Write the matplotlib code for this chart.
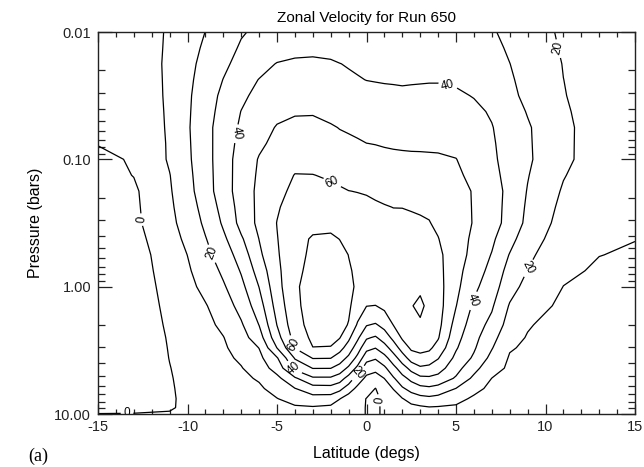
import numpy as np
import matplotlib
matplotlib.use("Agg")
import matplotlib.pyplot as plt
from matplotlib.ticker import FixedLocator, MultipleLocator, LogLocator, FuncFormatter, NullFormatter

plt.rcParams['font.family'] = ['Liberation Sans', 'DejaVu Sans']

# ---------------- data ----------------
latitude = [-15, -13, -11, -10, -9, -8, -7, -6, -5, -4, -3, -2, -1.5, -1, -0.5, 0,
            0.5, 1, 1.5, 2, 2.5, 3, 3.5, 4, 5, 6, 7, 8, 9, 11, 13, 15]
pressure = [0.01, 0.01334, 0.01778, 0.02371, 0.03162, 0.04217, 0.05623, 0.07499,
            0.1, 0.1334, 0.1778, 0.2371, 0.3162, 0.4217, 0.5623, 0.7499, 1.0, 1.413,
            1.995, 2.512, 3.020, 3.631, 4.365, 5.248, 6.310, 7.586, 8.913, 10.0]

# zonal velocity, one row per pressure level (same order as `pressure`)
u_p0100 = [4, 7, 10.6, 15.6, 20.1, 24.3, 29.3, 31.5, 32, 33.5, 35, 35.5, 36, 36, 36, 36,
           36, 36, 36, 35.5, 35.5, 35, 35, 34.5, 33.5, 32, 30.8, 27.9, 24.6, 18.5, 16, 13]
u_p0133 = [4.5, 7.25, 10.65, 16.5, 21.45, 26.3, 31.05, 34.15, 36.2, 37.55, 37.8, 37.8, 38.05, 37.8, 37.6, 37.25,
           37.2, 37.15, 37.1, 36.85, 36.85, 36.6, 36.6, 36.35, 35.55, 34, 32.05, 29, 25.55, 19.1, 16, 12.75]
u_p0178 = [5, 7.5, 10.7, 17.4, 22.8, 28.3, 32.8, 36.8, 40.4, 41.6, 42, 41, 40.1, 39.6, 39.2, 38.5,
           38.4, 38.3, 38.2, 38.2, 38.2, 38.2, 38.2, 38.2, 37.6, 36, 33.3, 30.1, 26.5, 19.7, 16, 12.5]
u_p0237 = [5.25, 7.25, 10.7, 17.9, 24.1, 30.2, 35.5, 40.3, 42.9, 44, 44.25, 43.45, 41.5, 41, 40.4, 39.9,
           39.7, 39.5, 39.4, 39.3, 39.4, 39.5, 39.6, 39.6, 39.2, 37.8, 34.9, 31.05, 27.25, 20.05, 16, 12.25]
u_p0316 = [5.5, 7, 10.7, 18.4, 25.4, 32.1, 38.2, 42.5, 45.4, 46.4, 46.5, 45.9, 45.4, 44.9, 43.6, 42.3,
           42, 41.8, 41.6, 41.3, 41.5, 41.6, 41.7, 41.7, 41, 39.7, 36.5, 32, 28, 20.4, 16, 12]
u_p0422 = [3.75, 6.65, 10.65, 18.65, 26.1, 33.35, 40.2, 44.5, 48, 49.3, 49.3, 47.6, 46.8, 46.3, 45.5, 44.6,
           44.3, 44.1, 43.9, 43.8, 43.9, 44, 44.05, 44.05, 43.2, 41.6, 39.2, 33.85, 29.5, 21.1, 16, 11.75]
u_p0562 = [2, 6.3, 10.6, 18.9, 26.8, 34.6, 41.5, 46.5, 50.6, 52, 52.5, 50.9, 49.7, 49, 48.2, 47.4,
           47, 46.6, 46.4, 46.3, 46.3, 46.4, 46.4, 46.4, 45.4, 43.5, 40.4, 35.7, 31, 21.8, 16, 11.5]
u_p0750 = [0.3, 3.5, 10.8, 18.6, 26.5, 35.05, 42.8, 48.55, 52.1, 54.75, 54.9, 53.6, 52.6, 51.8, 51, 50.05,
           49.8, 49.4, 49.1, 48.9, 48.8, 48.8, 48.8, 48.7, 47.8, 44.8, 41.2, 35.7, 31.2, 21.85, 15.75, 11.25]
u_p1000 = [-2, 0.8, 11, 18.3, 26.2, 35.5, 44.1, 50.6, 53.6, 57.5, 57.3, 56.3, 55.5, 54.6, 53.8, 53,
           52.5, 52.1, 51.8, 51.6, 51.4, 51.3, 51.1, 51, 50.2, 46.1, 42, 35.7, 31.4, 21.9, 15.5, 11]
u_p1334 = [-3, 0.2, 9.7, 17.5, 25.85, 35.4, 44.35, 51.35, 56, 60.3, 60.2, 59, 58.2, 57.5, 57, 56.5,
           55.7, 55.2, 54.8, 54.45, 54.1, 53.8, 53.35, 53, 51.6, 47.75, 43, 36.6, 30.45, 20.45, 15, 11]
u_p1778 = [-4, -1.5, 9, 16.7, 25.5, 35.3, 44.6, 52.1, 58.2, 61.5, 62.5, 62, 61, 60.1, 59.8, 59.5,
           58.9, 58.3, 57.8, 57.3, 56.8, 56.3, 55.6, 55, 53, 49.4, 44, 37.5, 29.5, 19, 14.5, 11]
u_p2371 = [-4.5, -1.85, 8.3, 15.25, 23.65, 33.3, 43.8, 52.2, 59.2, 63.5, 65.25, 65.25, 64.5, 63.3, 62.4, 61.65,
           60.95, 60.4, 59.9, 59.9, 59.6, 59.3, 58.9, 57.3, 53.5, 49.45, 44, 37, 28.55, 17.55, 13.75, 10.8]
u_p3162 = [-5, -2.2, 7.6, 13.8, 21.8, 31.3, 43, 52.3, 60.2, 65.5, 68, 68.5, 68, 66.5, 65, 63.8,
           63, 62.5, 62, 61.5, 61.2, 60.8, 60.3, 58.6, 54, 49.5, 44, 36.5, 27.6, 16.1, 13, 10.6]
u_p4217 = [-5.5, -3.4, 6.35, 11.95, 19.45, 27.95, 38.65, 50.15, 59.6, 67.3, 70.8, 71, 69.9, 68.3, 66.75, 65.65,
           65, 64.5, 64, 63.5, 63.1, 62.65, 61.9, 60.3, 54.25, 48.25, 41.75, 33, 24.8, 14.55, 11.55, 10.1]
u_p5623 = [-6, -4.6, 5.1, 10.1, 17.1, 24.6, 34.3, 48, 59, 66.7, 72, 73, 72, 69.9, 68.5, 67.5,
           67, 66.5, 66, 65.5, 65, 64.5, 63.5, 62, 54.5, 47, 39.5, 29.5, 22, 13, 10.1, 9.4]
u_p7499 = [-6.5, -4.95, 4.15, 8.75, 14.8, 21.7, 30.8, 44.1, 57.75, 67.75, 72.75, 73.5, 72.75, 70.7, 68.75, 67.25,
           66.75, 66.5, 66.5, 66.75, 66.75, 66.5, 65.25, 62.75, 53.5, 44.5, 37.25, 26.35, 19.65, 11.45, 9.05, 8.2]
u_p1bar = [-7, -5.3, 3.2, 7.4, 12.5, 18.8, 27.3, 40.2, 56.5, 68.8, 73.5, 74, 73.5, 71.5, 69, 67,
           66.5, 66.5, 67, 68, 68.5, 68.5, 67, 63.5, 52.5, 42, 35, 23.2, 17.3, 9.9, 8, 7]
u_p1p41 = [-7.5, -5.6, 2.2, 5.6, 9.3, 15.5, 23, 35.5, 53.9, 68, 74, 74.5, 73.5, 71.5, 65.5, 60.2,
           59.8, 62, 65, 67.5, 69.5, 72, 67.5, 64, 50.3, 38.2, 31.2, 19.2, 14, 8.2, 7, 6]
u_p2p00 = [-8, -5.8, 1.3, 4.3, 7.6, 11.9, 18.8, 30.2, 50.2, 66.4, 73.5, 74, 73, 69.5, 58.8, 50.6,
           49, 53, 60.2, 65, 68, 68.5, 67, 63, 46.2, 35, 27, 16, 10.6, 7, 6, 5.3]
u_p2p51 = [-8, -5.8, 0.7, 3.6, 6.7, 9.7, 16, 25.5, 46.2, 63.7, 72, 72.5, 70.5, 62, 51.8, 41.2,
           38.8, 44.6, 52.5, 61.3, 65.5, 66, 64.5, 60.8, 43.3, 32.9, 23.4, 12.8, 9.5, 6.5, 5.5, 5]
u_p3p02 = [-8, -5.8, 0.4, 3.1, 6.0, 8.8, 13.6, 20.2, 40.2, 60.2, 69.8, 69.5, 63.6, 55.6, 44.9, 33,
           30.3, 36, 44.6, 54.2, 61.8, 62.5, 61.9, 56.4, 41, 31.2, 20.6, 10.7, 8.8, 6.2, 5.2, 4.7]
u_p3p63 = [-8, -5.7, 0.15, 2.7, 5.3, 8.0, 11.4, 17.5, 29.1, 50.9, 60.5, 60.3, 55, 47.8, 37.2, 23.6,
           21, 26.6, 35.5, 45.1, 54.3, 57.5, 55.4, 50.6, 37.6, 28.5, 17.2, 9.2, 8.2, 6, 5, 4.5]
u_p4p37 = [-7.5, -5.5, -0.2, 2.3, 4.6, 7.1, 9.5, 14.9, 24, 42, 50.3, 50.2, 46, 38, 27.3, 14.3,
           12.4, 18, 26.8, 35.4, 43.2, 48.2, 47.3, 44.3, 33.6, 23.1, 13.5, 8.5, 7.8, 5.8, 4.8, 4.3]
u_p5p25 = [-7, -5.2, -0.5, 2, 3.9, 6.2, 8.2, 10.9, 17.4, 28.5, 38.5, 38.5, 34.6, 26, 15.2, 7.9,
           6.1, 10.1, 18.8, 26.7, 32.8, 37.5, 38.2, 36.6, 28.8, 17.8, 9.9, 8, 7.4, 5.6, 4.6, 4.1]
u_p6p31 = [-6.5, -5, -0.7, 1.7, 3.4, 5.4, 7.3, 8.5, 13.6, 19.7, 25.5, 26, 22.8, 15, 7.5, 3.8,
           -0.2, 5, 10.4, 18.6, 23.5, 26.8, 28, 26.2, 19.8, 12.5, 8, 7.5, 7, 5.4, 4.4, 4]
u_p7p59 = [-5.5, -4.5, -0.8, 1.4, 2.8, 4.6, 6.5, 7.9, 9.7, 13.9, 16.2, 15.5, 10.4, 5, 3.5, -0.3,
           -2, 2, 5, 9.5, 14, 16.5, 17.5, 16.4, 12.9, 8.5, 7, 7, 6.6, 5.2, 4.2, 3.9]
u_p8p91 = [-4, -3.5, -0.6, 1.2, 2.3, 3.8, 5.8, 7.3, 8.6, 8.5, 9, 7.8, 3, 3, 3, -0.5,
           -2.5, 2.5, 3, 5, 7, 8.2, 9.3, 9, 8.5, 7, 6.5, 6.5, 6.3, 5.1, 4.1, 3.8]
u_p10p0 = [0.3, 0.5, 0.5, 1, 1.5, 2.5, 4, 5, 6, 5, 4, 3, 2, 2.5, 3, -0.5,
           -2.5, 2.5, 2, 3, 4, 5, 5.5, 5.5, 6, 6, 6, 6, 6, 5, 4, 3.7]

labelled_levels = [0, 20, 40, 60]
plain_levels = [10, 30, 50, 70]
# (latitude, pressure) spots where the contour labels sit
label_spots = [(-12.37, 0.294), (-13.38, 9.66), (0.75, 7.76),
               (-8.63, 0.545), (10.7, 0.0134), (8.97, 0.70), (-0.53, 4.69),
               (-7.46, 0.0621), (4.55, 0.0261), (5.89, 1.27), (-4.16, 4.52),
               (-1.87, 0.148), (-3.88, 2.77)]

x_ticks = [-15, -10, -5, 0, 5, 10, 15]
y_ticks = [0.01, 0.1, 1.0, 10.0]

title = "Zonal Velocity for Run 650"
x_label = "Latitude (degs)"
y_label = "Pressure (bars)"
panel_tag = "(a)"

# ---------------- plot ----------------
zonal_velocity = np.array([u_p0100, u_p0133, u_p0178, u_p0237, u_p0316, u_p0422, u_p0562,
                           u_p0750, u_p1000, u_p1334, u_p1778, u_p2371, u_p3162, u_p4217,
                           u_p5623, u_p7499, u_p1bar, u_p1p41, u_p2p00, u_p2p51, u_p3p02,
                           u_p3p63, u_p4p37, u_p5p25, u_p6p31, u_p7p59, u_p8p91, u_p10p0])

fig = plt.figure(figsize=(6.44, 4.67), dpi=100)
ax = fig.add_axes([98 / 644, 53 / 467, 537 / 644, 382 / 467])

ax.set_yscale('log')
cs_plain = ax.contour(latitude, pressure, zonal_velocity, levels=plain_levels,
                      colors='black', linewidths=0.9, negative_linestyles='solid')
cs_lab = ax.contour(latitude, pressure, zonal_velocity, levels=labelled_levels,
                    colors='black', linewidths=0.9, negative_linestyles='solid')
ax.clabel(cs_lab, manual=label_spots, inline=True, inline_spacing=3,
          fontsize=8.5, fmt='%d')

ax.set_xlim(-15, 15)
ax.set_ylim(10, 0.01)

ax.xaxis.set_major_locator(FixedLocator(x_ticks))
ax.xaxis.set_minor_locator(MultipleLocator(1))
ax.xaxis.set_major_formatter(FuncFormatter(lambda v, p: '%d' % v))
ax.yaxis.set_major_locator(FixedLocator(y_ticks))
ax.yaxis.set_major_formatter(FuncFormatter(lambda v, p: '%.2f' % v))
ax.yaxis.set_minor_locator(LogLocator(base=10, subs=np.arange(2, 10)))
ax.yaxis.set_minor_formatter(NullFormatter())

ax.tick_params(which='both', direction='in', top=True, right=True, width=0.9,
               labelsize=10.5, colors='#222222')
ax.tick_params(axis='x', which='major', length=7, pad=4)
ax.tick_params(axis='x', which='minor', length=3.5)
ax.tick_params(axis='y', which='major', length=10, pad=5)
ax.tick_params(axis='y', which='minor', length=5)
for sp in ax.spines.values():
    sp.set_linewidth(1.0)
    sp.set_color('#222222')

ax.set_title(title, fontsize=11, pad=7)
ax.set_xlabel(x_label, fontsize=11.5, labelpad=9)
ax.set_ylabel(y_label, fontsize=11.5, labelpad=8)
fig.text(28 / 644, 1 - 456 / 467, panel_tag, family=['Liberation Serif', 'DejaVu Serif'],
         fontsize=13, va='center', ha='left')

fig.savefig('out.png', dpi=100)
